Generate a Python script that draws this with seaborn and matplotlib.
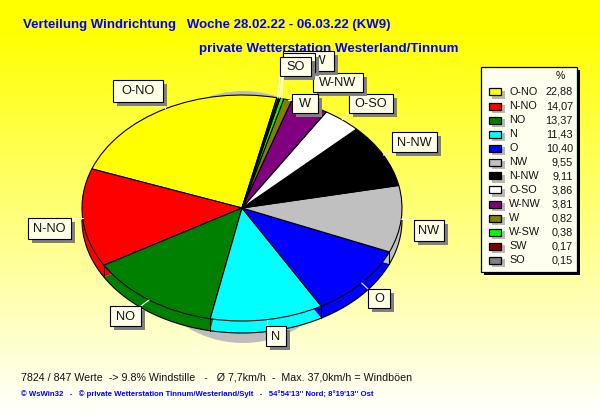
import numpy as np
import matplotlib
matplotlib.use("Agg")
import matplotlib.pyplot as plt
from matplotlib.patches import Rectangle, Ellipse
import seaborn as sns

names = ["O-NO", "N-NO", "NO", "N", "O", "NW", "N-NW", "O-SO", "W-NW", "W", "W-SW", "SW", "SO"]
values = [22.88, 14.07, 13.37, 11.43, 10.40, 9.55, 9.11, 3.86, 3.81, 0.82, 0.38, 0.17, 0.15]
value_text = ["22,88", "14,07", "13,37", "11,43", "10,40", "9,55", "9,11", "3,86", "3,81", "0,82", "0,38", "0,17", "0,15"]
colors = ["#ffff00", "#ff0000", "#008000", "#00ffff", "#0000ff", "#c0c0c0", "#000000",
          "#ffffff", "#800080", "#808000", "#00ff00", "#800000", "#808080"]
# label boxes in pixels: left, top, right, bottom
label_boxes = {
    "O-NO": (113, 80, 163, 102), "N-NO": (28, 218, 71, 239), "NO": (110, 306, 141, 326),
    "N": (266, 326, 286, 346), "O": (368, 289, 390, 308), "NW": (414, 220, 444, 241),
    "N-NW": (392, 132, 437, 152), "O-SO": (349, 94, 393, 113), "W-NW": (313, 73, 363, 92),
    "W": (292, 94, 318, 113), "W-SW": (283, 51, 334, 71), "SW": (283, 53, 315, 72),
    "SO": (280, 57, 311, 76),
}
label_order = ["O-NO", "N-NO", "NO", "N", "O", "NW", "N-NW", "O-SO", "W-NW", "W-SW", "SW", "SO", "W"]
title_1 = "Verteilung Windrichtung   Woche 28.02.22 - 06.03.22 (KW9)"
title_2 = "private Wetterstation Westerland/Tinnum"
footer_1 = "7824 / 847 Werte  -> 9.8% Windstille   -   Ø 7,7km/h  -  Max. 37,0km/h = Windböen"
footer_2 = "© WsWin32   -   © private Wetterstation Tinnum/Westerland/Sylt   -   54°54'13'' Nord; 8°19'13'' Ost"

sns.set_theme(style="white")
plt.rcParams["font.family"] = ["Liberation Sans", "DejaVu Sans"]
palette = sns.color_palette(colors)

W, H = 600, 415
cx, cy, rx, ry, depth, start = 242, 208, 160, 113, 12, 77.4
fig = plt.figure(figsize=(W / 100, H / 100), dpi=100)

# page background
bg = fig.add_axes([0, 0, 1, 1], zorder=0)
bg.set_xlim(0, W); bg.set_ylim(H, 0); bg.axis("off")
blue = np.clip((np.arange(H) - 30) / 385, 0, 1)
grad = np.ones((H, 1, 3)); grad[:, 0, 2] = blue
bg.imshow(grad, extent=(0, W, H, 0), aspect="auto", interpolation="bilinear")
bg.set_xlim(0, W); bg.set_ylim(H, 0)
bg.add_patch(Ellipse((243, 217), 232, 252, fc="#bdbdbd", ec="none"))

# pie: an axes whose unit circle maps onto the ellipse
pie_ax = fig.add_axes([(cx - rx) / W, 1 - (cy + ry) / H, 2 * rx / W, 2 * ry / H], zorder=1)
side_w, _ = pie_ax.pie(values, colors=palette, startangle=start, counterclock=True,
                       center=(0, -depth / ry), radius=1, wedgeprops=dict(linewidth=0))
top_w, _ = pie_ax.pie(values, colors=palette, startangle=start, counterclock=True,
                      center=(0, 0), radius=1, wedgeprops=dict(edgecolor="black", linewidth=0.8))
pie_ax.set_aspect("auto")
pie_ax.set_xlim(-1, 1); pie_ax.set_ylim(-1, 1)
pie_ax.axis("off")
for w in side_w + top_w:
    w.set_clip_on(False)
    w.set_zorder(2 if w in top_w else 1)
# lower rim and the vertical joins of the side wall, on the front half only
d = depth / ry
t = np.linspace(np.pi, 2 * np.pi, 200)
pie_ax.plot(np.cos(t), np.sin(t) - d, color="black", lw=0.8, clip_on=False, zorder=1.5)
for w in top_w:
    a = np.radians(w.theta2)
    if np.sin(a) < 0:
        pie_ax.plot([np.cos(a)] * 2, [np.sin(a), np.sin(a) - d], color="black", lw=0.8,
                    clip_on=False, zorder=1.5)

# overlay in pixel coordinates
ov = fig.add_axes([0, 0, 1, 1], zorder=2)
ov.set_xlim(0, W); ov.set_ylim(H, 0); ov.axis("off"); ov.patch.set_alpha(0)

# leader lines
mids = {n: np.radians((w.theta1 + w.theta2) / 2) for n, w in zip(names, top_w)}
for n in label_order:
    l, t_, r, b = label_boxes[n]
    x0 = cx + rx * np.cos(mids[n]); y0 = cy - ry * np.sin(mids[n])
    x1 = np.clip(x0, l, r); y1 = np.clip(y0, t_, b)
    ov.plot([x0, x1], [y0, y1], color="white", lw=0.8, zorder=3)

# label boxes
for i, n in enumerate(label_order):
    l, t_, r, b = label_boxes[n]
    z = 4 + i * 0.1
    ov.add_patch(Rectangle((l + 4, t_ + 4), r - l, b - t_, fc="#808080", ec="none", zorder=z))
    ov.add_patch(Rectangle((l, t_), r - l, b - t_, fc="#ffffe8", ec="black", lw=0.8, zorder=z))
    ov.text((l + r) / 2, (t_ + b) / 2 + 0.5, n, ha="center", va="center", fontsize=9.2,
            color="#111111", zorder=z)

# legend
ov.add_patch(Rectangle((484, 70), 96, 205, fc="black", ec="none", zorder=5))
ov.add_patch(Rectangle((481, 67), 96, 205, fc="#fffff0", ec="black", lw=0.9, zorder=5.1))
ov.text(560, 76, "%", ha="center", va="center", fontsize=7.5, color="black", zorder=6)
for i, (n, s, c) in enumerate(zip(names, value_text, palette)):
    y = 92 + i * 14
    ov.add_patch(Rectangle((492, y - 1), 13, 8, fc="#b8b8b8", ec="none", zorder=5.5))
    ov.add_patch(Rectangle((488.5, y - 3.5), 12, 7, fc=c, ec="black", lw=0.9, zorder=5.6))
    ov.text(509, y, n, ha="left", va="center", fontsize=7.8, color="#111111", zorder=6)
    ov.text(573, y, s, ha="right", va="center", fontsize=7.8, color="#111111", zorder=6)

# titles and footers
ov.text(23, 25, title_1, ha="left", va="center", fontsize=9.5, fontweight="bold", color="#0000ff")
ov.text(199, 49, title_2, ha="left", va="center", fontsize=9.65, fontweight="bold", color="#0000ff")
ov.text(21, 377, footer_1, ha="left", va="center", fontsize=7.7, color="#111111")
ov.text(21, 394, footer_2, ha="left", va="center", fontsize=5.55, fontweight="bold", color="#0000ff")

fig.savefig("out.png", dpi=100)
